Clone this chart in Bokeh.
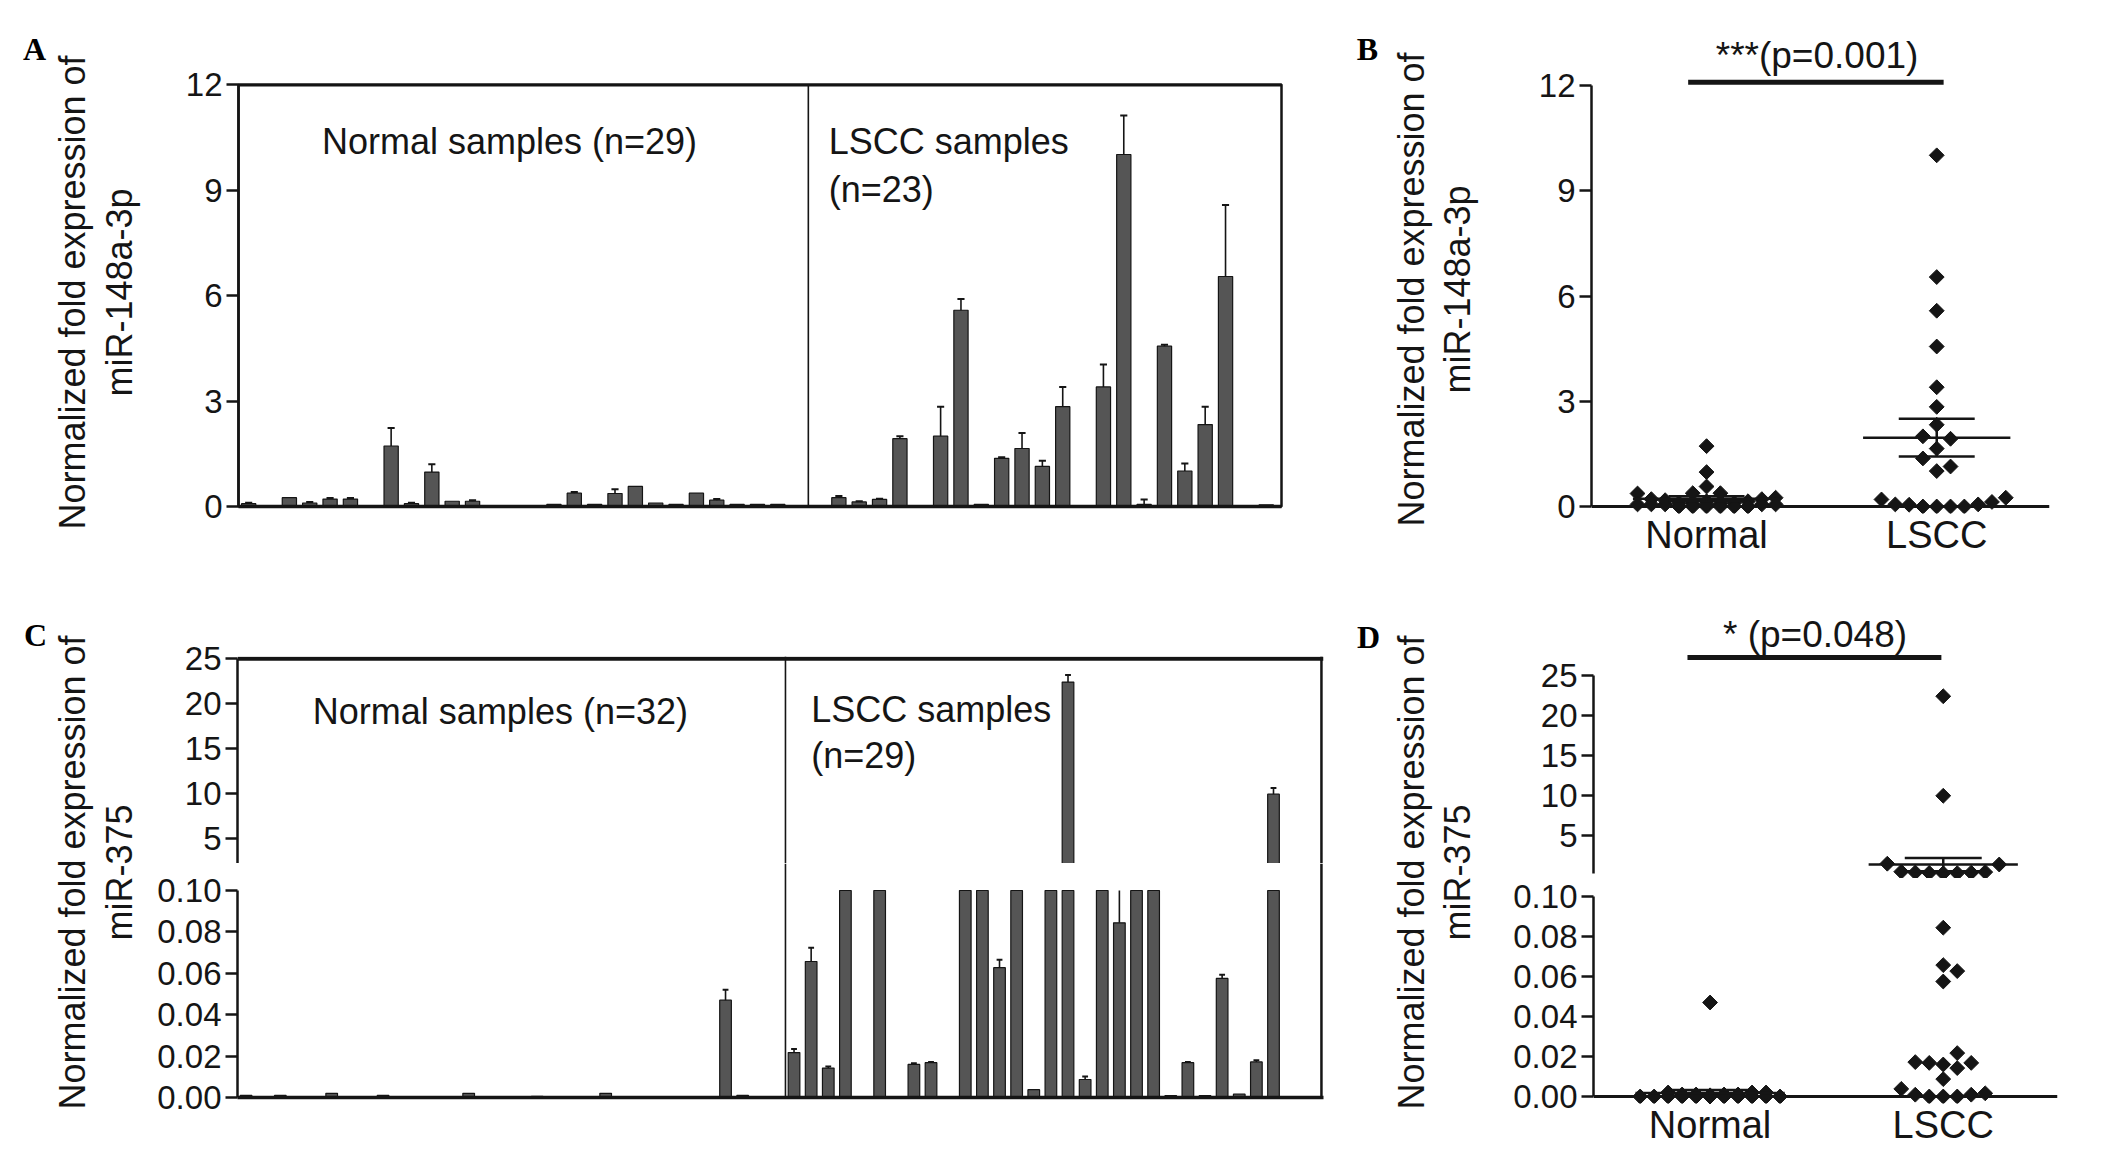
import numpy as np
from bokeh.plotting import figure
from bokeh.models import Range1d, FixedTicker, Span, Label, NumeralTickFormatter
from bokeh.layouts import row, column
from bokeh.embed import file_html
from bokeh.resources import INLINE

# ---------------- data ----------------
groups = ["Normal", "LSCC"]

# panel A / B : miR-148a-3p (per-sample mean, upper error bar end)
A_normal = [0.08, 0, 0.25, 0.10, 0.21, 0.21, 0, 1.72, 0.08, 0.98, 0.15, 0.15, 0, 0, 0,
            0.06, 0.38, 0.06, 0.37, 0.57, 0.10, 0.06, 0.38, 0.18, 0.06, 0.06, 0.06, 0]
A_normal_err = [0.11, None, None, 0.13, 0.24, 0.24, None, 2.23, 0.11, 1.20, None, 0.18, None, None, None,
                None, 0.41, None, 0.49, None, None, None, None, 0.21, None, None, None, None]
A_lscc = [0, 0.25, 0.13, 0.20, 1.93, 0, 2.00, 5.58, 0.06, 1.37, 1.65, 1.14, 2.84, 0,
          3.40, 10.01, 0.06, 4.56, 1.01, 2.33, 6.54, 0, 0.05]
A_lscc_err = [None, 0.30, 0.15, 0.22, 2.00, None, 2.84, 5.90, None, 1.40, 2.09, 1.30, 3.40, None,
              4.04, 11.12, 0.20, 4.60, 1.22, 2.84, 8.57, None, None]

# panel C / D : miR-375
C_normal = [0.001, 0, 0.001, 0, 0, 0.002, 0, 0, 0.001, 0, 0, 0, 0, 0.002, 0, 0,
            0, 0.0006, 0, 0, 0, 0.002, 0, 0, 0, 0, 0, 0, 0.047, 0.001, 0, 0]
C_normal_err = [None] * 28 + [0.052, None, None, None]
C_lscc = [0.0217, 0.0657, 0.0142, 0.30, 0, 1.30, 0, 0.0160, 0.0168, 0, 0.22, 0.40, 0.0627, 0.25,
          0.0038, 0.20, 22.4, 0.0087, 0.35, 0.0844, 1.40, 0.28, 0.0009, 0.0168, 0.0009, 0.0575,
          0.0016, 0.0172, 9.92]
C_lscc_err = [0.0234, 0.0723, 0.0150, None, None, None, None, 0.0166, 0.0172, None, None, None, 0.0665,
              None, None, None, 23.2, 0.0102, None, 0.12, None, None, None, 0.0172, None, 0.0593,
              None, 0.0180, 10.6]

A_ticks = [0, 3, 6, 9, 12]
C_upper_ticks = [5, 10, 15, 20, 25]
C_lower_ticks = [0.0, 0.02, 0.04, 0.06, 0.08, 0.10]
ylab_A = ["Normalized fold expression of", "miR-148a-3p"]
ylab_C = ["Normalized fold expression of", "miR-375"]
sig_B = "***(p=0.001)"
sig_D = "* (p=0.048)"
txt_A = ["Normal samples (n=29)", "LSCC samples", "(n=23)"]
txt_C = ["Normal samples (n=32)", "LSCC samples", "(n=29)"]

# ---------------- style ----------------
SANS = "Liberation Sans"
SERIF = "Liberation Serif"
INK = "#151515"
BAR = "#555555"
TICK_FS = "33px"


def mkfig(w, h, xr, yr, mb, xloc="below", yloc="left"):
    p = figure(width=w, height=h, x_range=Range1d(*xr), y_range=Range1d(*yr),
               toolbar_location=None, output_backend="svg",
               x_axis_location=xloc, y_axis_location=yloc,
               min_border_left=mb[0], min_border_right=mb[1],
               min_border_top=mb[2], min_border_bottom=mb[3])
    p.grid.visible = False
    p.outline_line_color = None
    p.background_fill_color = "white"
    p.border_fill_color = "white"
    return p


def style_y(p, ticks, bounds, fmt=None):
    ax = p.yaxis[0]
    ax.ticker = FixedTicker(ticks=ticks)
    ax.bounds = bounds
    ax.axis_line_width = 2.5
    ax.axis_line_color = INK
    ax.major_tick_line_width = 2.5
    ax.major_tick_line_color = INK
    ax.major_tick_out = 12
    ax.major_tick_in = 0
    ax.minor_tick_line_color = None
    ax.major_label_text_font = SANS
    ax.major_label_text_font_size = TICK_FS
    ax.major_label_text_color = INK
    ax.major_label_standoff = 4
    if fmt:
        ax.formatter = NumeralTickFormatter(format=fmt)


def plain_x(p, width=3.5):
    ax = p.xaxis[0]
    ax.ticker = FixedTicker(ticks=[])
    ax.axis_line_width = width
    ax.axis_line_color = INK
    ax.minor_tick_line_color = None
    ax.major_tick_line_color = None


def group_x(p, standoff):
    ax = p.xaxis[0]
    ax.ticker = FixedTicker(ticks=[1, 2])
    ax.major_label_overrides = {1: groups[0], 2: groups[1]}
    ax.axis_line_color = None
    ax.major_tick_line_color = None
    ax.major_tick_out = 0
    ax.minor_tick_line_color = None
    ax.major_label_text_font = SANS
    ax.major_label_text_font_size = "38px"
    ax.major_label_text_color = INK
    ax.major_label_standoff = standoff


def label_fig(w, h, letter, lpos, lines, lxs, yc):
    p = figure(width=w, height=h, x_range=Range1d(0, w), y_range=Range1d(0, h),
               toolbar_location=None, output_backend="svg",
               x_axis_location=None, y_axis_location=None, min_border=0)
    p.grid.visible = False
    p.outline_line_color = None
    p.add_layout(Label(x=lpos[0], y=lpos[1], text=letter, text_font=SERIF, text_font_style="bold",
                       text_font_size="32px", text_align="center", text_baseline="middle",
                       text_color="#000000"))
    for t, lx in zip(lines, lxs):
        p.add_layout(Label(x=lx, y=yc, text=t, angle=np.pi / 2, text_font=SANS,
                           text_font_size="36px", text_align="center", text_baseline="middle",
                           text_color=INK))
    return p


def bars(p, xs, vals, errs, width, lo, hi, bottom):
    """draw bars/error bars restricted to the value window [lo, hi]."""
    bx, bt = [], []
    for x, v in zip(xs, vals):
        if v > 0 and v > lo:
            bx.append(x)
            bt.append(min(v, hi))
    if bx:
        p.vbar(x=bx, top=bt, bottom=bottom, width=width, fill_color=BAR,
               line_color=INK, line_width=1.2)
    sx0, sy0, sy1, cx, cy = [], [], [], [], []
    for x, v, e in zip(xs, vals, errs):
        if e is None or v <= 0:
            continue
        if v < hi and e > lo:
            sx0.append(x)
            sy0.append(max(v, lo))
            sy1.append(min(e, hi))
            if lo < e <= hi:
                cx.append(x)
                cy.append(e)
    if sx0:
        p.segment(x0=sx0, y0=sy0, x1=sx0, y1=sy1, line_color=INK, line_width=1.6)
    if cx:
        p.segment(x0=[x - width * 0.25 for x in cx], y0=cy, x1=[x + width * 0.25 for x in cx],
                  y1=cy, line_color=INK, line_width=2)


def swarm_cols(vals, to_px, cap=5, gap=14.0):
    order = sorted(range(len(vals)), key=lambda i: vals[i])
    cand = [0]
    for k in range(1, cap + 1):
        cand += [k, -k]
    placed = {c: [] for c in cand}
    cols = [0] * len(vals)
    for i in order:
        py = to_px(vals[i])
        chosen = None
        for c in cand:
            if all(abs(py - q) >= gap for q in placed[c]):
                chosen = c
                break
        if chosen is None:
            chosen = max(cand, key=lambda c: (min(abs(py - q) for q in placed[c]), -abs(c)))
        placed[chosen].append(py)
        cols[i] = chosen
    return cols


def stats(v):
    a = np.asarray(v, dtype=float)
    return float(a.mean()), float(a.std(ddof=1) / np.sqrt(len(a)))


def stat_lines(p, g, m, s):
    p.segment(x0=[g - 0.32, g - 0.165, g - 0.165, g], y0=[m, m + s, m - s, m - s],
              x1=[g + 0.32, g + 0.165, g + 0.165, g], y1=[m, m + s, m - s, m + s],
              line_color=INK, line_width=2.5)


def dots(p, xs, ys):
    p.scatter(x=xs, y=ys, marker="square", angle=np.pi / 4, size=10.5,
              fill_color=INK, line_color=INK)


# ---------------- panel A ----------------
nA, mA = len(A_normal), len(A_lscc)
xA = [i + 0.5 for i in range(nA + mA)]
A_xend = nA + mA + 0.25
pA = mkfig(1198, 588, (0, A_xend), (0, 12), (88, 67, 84, 82))
pA.outline_line_color = INK
pA.outline_line_width = 2.5
style_y(pA, A_ticks, (0, 12))
plain_x(pA)
bars(pA, xA, A_normal + A_lscc, A_normal_err + A_lscc_err, 0.7, 0, 1e9, 0)
pA.add_layout(Span(location=nA, dimension="height", line_color=INK, line_width=1.6))
pA.add_layout(Span(location=12, dimension="width", line_color=INK, line_width=4))
for t, x, y in [(txt_A[0], 4.1, 10.38), (txt_A[1], nA + 1.0, 10.38), (txt_A[2], nA + 1.0, 9.01)]:
    pA.add_layout(Label(x=x, y=y, text=t, text_font=SANS, text_font_size="36px",
                        text_align="left", text_baseline="middle", text_color=INK))

# ---------------- panel B ----------------
B_yr = (-0.1995, 13.568)
pB = mkfig(618, 588, (0.5, 2.49), B_yr, (91, 69, 30, 75))
style_y(pB, A_ticks, (0, 12))
group_x(pB, 0)
pB.add_layout(Span(location=0, dimension="width", line_color=INK, line_width=3))
b_ppu = (588 - 30 - 75) / (B_yr[1] - B_yr[0])
STEP = 0.06
for g, vals in [(1, A_normal), (2, A_lscc)]:
    cols = swarm_cols(vals, lambda v: -v * b_ppu)
    dots(pB, [g + c * STEP for c in cols], vals)
    m, s = stats(vals)
    stat_lines(pB, g, m, s)
pB.segment(x0=[0.92], y0=[12.09], x1=[2.03], y1=[12.09], line_color=INK, line_width=5)
pB.add_layout(Label(x=1.48, y=12.86, text=sig_B, text_font=SANS, text_font_size="37px",
                    text_align="center", text_baseline="middle", text_color=INK))

# ---------------- panel C (broken axis: upper + lower) ----------------
nC, mC = len(C_normal), len(C_lscc)
xC = [i + 0.5 for i in range(nC + mC)]
C_border = nC + mC + 2.3
C_xr = (0, C_border + 0.12)
C_up = (2.2, 25.25)
C_lo = (0, 0.11304)
pCu = mkfig(1198, 275, C_xr, C_up, (87, 25, 68, 0), xloc=None)
style_y(pCu, C_upper_ticks, (C_up[0], 25))
pCl = mkfig(1198, 291, C_xr, C_lo, (87, 25, 0, 57))
style_y(pCl, C_lower_ticks, (0, 0.1), "0.00")
plain_x(pCl)
allC = C_normal + C_lscc
allCe = C_normal_err + C_lscc_err
bars(pCu, xC, allC, allCe, 0.68, C_up[0], 1e9, C_up[0])
bars(pCl, xC, allC, allCe, 0.68, 0, 0.1, 0)
for p in (pCu, pCl):
    p.add_layout(Span(location=nC, dimension="height", line_color=INK, line_width=1.6))
    p.add_layout(Span(location=C_border, dimension="height", line_color=INK, line_width=2.5))
pCu.add_layout(Span(location=25, dimension="width", line_color=INK, line_width=4))
for t, x, y in [(txt_C[0], 4.4, 19.1), (txt_C[1], nC + 1.5, 19.3), (txt_C[2], nC + 1.5, 14.2)]:
    pCu.add_layout(Label(x=x, y=y, text=t, text_font=SANS, text_font_size="36px",
                         text_align="left", text_baseline="middle", text_color=INK))

# ---------------- panel D (broken axis) ----------------
D_up = (-0.455, 33.78)
D_lo = (-0.0035, 0.109)
pDu = mkfig(618, 290, (0.5, 2.49), D_up, (93, 61, 17, 0), xloc=None)
style_y(pDu, C_upper_ticks, (0.2, 25))
pDl = mkfig(618, 276, (0.5, 2.49), D_lo, (93, 61, 0, 51))
style_y(pDl, C_lower_ticks, (0, 0.1), "0.00")
group_x(pDl, 0)
pDl.add_layout(Span(location=0, dimension="width", line_color=INK, line_width=3))
du_ppu = (290 - 17) / (D_up[1] - D_up[0])
dl_ppu = (276 - 51) / (D_lo[1] - D_lo[0])


def d_px(v):
    return -v * dl_ppu if v <= 0.1 else -(0.1 * dl_ppu + 23 + (v - 0.2) * du_ppu)


for g, vals in [(1, C_normal), (2, C_lscc)]:
    cols = swarm_cols(vals, d_px)
    xs = [g + c * STEP for c in cols]
    up = [(x, v) for x, v in zip(xs, vals) if v > 0.1]
    lo = [(x, v) for x, v in zip(xs, vals) if v <= 0.1]
    if up:
        dots(pDu, [u[0] for u in up], [u[1] for u in up])
    if lo:
        dots(pDl, [u[0] for u in lo], [u[1] for u in lo])
    m, s = stats(vals)
    stat_lines(pDu if m > 0.1 else pDl, g, m, s)
pDu.segment(x0=[0.903], y0=[27.26], x1=[1.992], y1=[27.26], line_color=INK, line_width=5)
pDu.add_layout(Label(x=1.45, y=30.14, text=sig_D, text_font=SANS, text_font_size="37px",
                     text_align="center", text_baseline="middle", text_color=INK))

# ---------------- label columns ----------------
LA = label_fig(150, 588, "A", (34, 540), ylab_A, (72, 119), 296)
LB = label_fig(152, 588, "B", (19, 540), ylab_A, (63, 109), 299)
LC = label_fig(150, 566, "C", (35, 520), ylab_C, (72, 119), 282)
LD = label_fig(152, 566, "D", (20, 518), ylab_C, (63, 109), 282)

top = row(LA, column(pA), LB, column(pB))
bottom = row(LC, column(pCu, pCl), LD, column(pDu, pDl))
layout = column(top, bottom)

open("out.html", "w").write(file_html(layout, INLINE))
